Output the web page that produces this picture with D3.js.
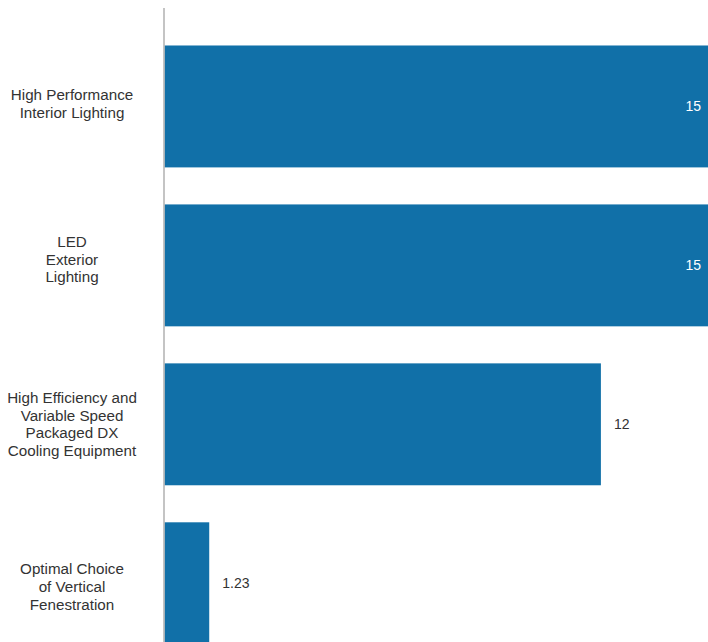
<!DOCTYPE html>
<html>
<head>
<meta charset="utf-8">
<script src="https://cdn.jsdelivr.net/npm/d3@7"></script>
<style>
html,body{margin:0;padding:0;background:#fff;overflow:hidden;}
svg{display:block;}
</style>
</head>
<body>
<svg id="chart" width="708" height="642"></svg>
<script>
const categories = [
  ["High Performance", "Interior Lighting"],
  ["LED", "Exterior", "Lighting"],
  ["High Efficiency and", "Variable Speed", "Packaged DX", "Cooling Equipment"],
  ["Optimal Choice", "of Vertical", "Fenestration"]
];
const values = [15, 15, 12, 1.23];
const valueLabels = ["15", "15", "12", "1.23"];

// layout only: small vertical nudges of the category labels (px)
const labelNudge = [-2.6, -6, 0, 3.5];

const svg = d3.select("#chart");
const W = 708, H = 642;
const keys = categories.map((c, i) => i);

const x = d3.scaleLinear().domain([0, 15]).range([164.5, 710]);
const y = d3.scaleBand().domain(keys).range([13.7, 676]).paddingInner(0.233).paddingOuter(0.2);

const barColor = "#1170a8";
const textColor = "#333";

svg.append("g").selectAll("rect").data(values).join("rect")
  .attr("x", x(0))
  .attr("y", (d, i) => y(i))
  .attr("width", d => x(d) - x(0))
  .attr("height", y.bandwidth())
  .attr("fill", barColor);

// axis line
svg.append("line")
  .attr("x1", x(0) - 0.5).attr("x2", x(0) - 0.5)
  .attr("y1", 8).attr("y2", H)
  .attr("stroke", "#b0b0b0").attr("stroke-width", 1.5);

// category labels
const lh = 17.6;
const lab = svg.append("g").attr("font-family", "'Liberation Sans', Arial, sans-serif")
  .attr("font-size", 15.2).attr("fill", textColor).attr("text-anchor", "middle");
categories.forEach((lines, i) => {
  const cy = y(i) + y.bandwidth() / 2 + labelNudge[i];
  const t = lab.append("text").attr("x", 72).attr("y", cy - (lines.length - 1) * lh / 2);
  lines.forEach((l, j) => {
    t.append("tspan").attr("x", 72).attr("dy", j === 0 ? "0.35em" : lh).text(l);
  });
});

// value labels
svg.append("g").attr("font-family", "'Liberation Sans', Arial, sans-serif").attr("font-size", 14)
  .selectAll("text").data(values).join("text")
  .attr("y", (d, i) => y(i) + y.bandwidth() / 2)
  .attr("dy", "0.35em")
  .attr("x", d => d >= 15 ? x(d) - 9 : x(d) + 13)
  .attr("text-anchor", d => d >= 15 ? "end" : "start")
  .attr("fill", d => d >= 15 ? "#fff" : textColor)
  .text((d, i) => valueLabels[i]);
</script>
</body>
</html>
